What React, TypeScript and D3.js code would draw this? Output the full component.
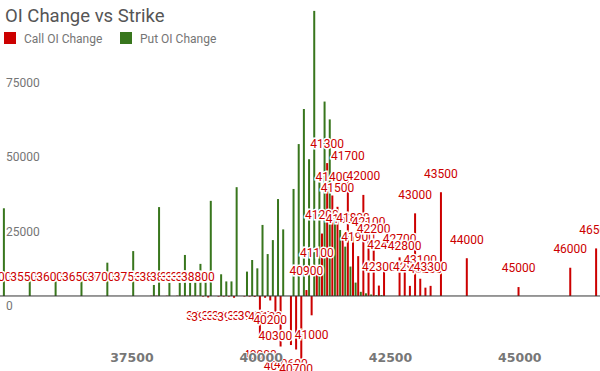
import { useEffect, useRef } from "react";
import * as d3 from "d3";

// ---------------------------------------------------------------------------
// Data
// ---------------------------------------------------------------------------

const STRIKES = [
  35000, 35500, 36000, 36500, 37000, 37500, 37900, 38000, 38200, 38400,
  38500, 38600, 38700, 38800, 38900, 39000, 39200, 39300, 39400, 39500,
  39700, 39800, 39900, 40000, 40100, 40200, 40300, 40400, 40600, 40700,
  40800, 40900, 41000, 41100, 41200, 41300, 41400, 41500, 41600, 41700,
  41800, 41900, 42000, 42100, 42200, 42300, 42400, 42700, 42800, 42900,
  43000, 43100, 43200, 43300, 43500, 44000, 45000, 46000, 46500,
];

const CALL_OI_CHANGE = [
  0, 0, 0, 0, 0, 0, 100, 100, 100, 100,
  100, 100, 100, 100, -200, -500, -200, -200, -200, -600,
  -200, -200, -300, -13500, -600, -1500, -7000, -17000, -16500, -18000,
  -22000, 2000, -6500, 8000, 21000, 44700, 33800, 30000, 19500, 40800,
  20000, 13400, 34000, 18500, 16300, 3500, 11000, 13000, 10500, 3400,
  27800, 5800, 2800, 3400, 34900, 12700, 3000, 9500, 16000,
];

const PUT_OI_CHANGE = [
  29500, 5500, 5000, 5000, 11200, 15100, 3700, 29900, 4800, 4600,
  13800, 4600, 4600, 10800, 4600, 32000, 7300, 4900, 4900, 36600,
  8200, 12100, 9300, 23900, 14100, 18800, 32600, 22400, 36000, 51100,
  62900, 46000, 95900, 38300, 65400, 59400, 28000, 22200, 16600, 9900,
  4500, 1400, 900, 500, 300, 300, 0, 0, 0, 0,
  0, 0, 0, 0, 0, 0, 0, 0, 0,
];

const X_TICKS = [37500, 40000, 42500, 45000];
const Y_TICKS = [0, 25000, 50000, 75000];

const SERIES = ["Call OI Change", "Put OI Change"];
const COLORS = ["#cc0000", "#38761d"];

const WIDTH = 600;
const HEIGHT = 371;

export default function App() {
  const svgRef = useRef<SVGSVGElement>(null);

  useEffect(() => {
    const svg = d3.select(svgRef.current);
    svg.selectAll("*").remove();

    const x = d3.scaleLinear().domain([34950, 46550]).range([0, WIDTH]);
    const y = d3.scaleLinear().domain([-25000, 100000]).range([370.3, -1.3]);

    const rows = STRIKES.map((s, i) => ({
      strike: s,
      call: CALL_OI_CHANGE[i],
      put: PUT_OI_CHANGE[i],
    }));

    const barW = 2;
    const off = 1.3; // half the gap between the two series in a group

    // ---- Title ----
    svg
      .append("text")
      .attr("x", 5)
      .attr("y", 21.5)
      .attr("font-family", "Roboto")
      .attr("font-size", 18.5)
      .attr("fill", "#555")
      .text("OI Change vs Strike");

    // ---- Legend ----
    const legendX = [4, 120];
    SERIES.forEach((name, i) => {
      svg
        .append("rect")
        .attr("x", legendX[i])
        .attr("y", 32)
        .attr("width", 12)
        .attr("height", 12)
        .attr("fill", COLORS[i]);
      svg
        .append("text")
        .attr("x", legendX[i] + 20)
        .attr("y", 43)
        .attr("font-family", "Roboto")
        .attr("font-size", 12)
        .attr("fill", "#757575")
        .text(name);
    });

    // ---- Y labels ----
    svg
      .append("g")
      .selectAll("text")
      .data(Y_TICKS)
      .join("text")
      .attr("x", 6)
      .attr("y", (d) => y(d) + 14)
      .attr("font-family", "Roboto")
      .attr("font-size", 12)
      .attr("fill", "#757575")
      .text((d) => String(d));

    // ---- Bars ----
    const g = svg.append("g");
    g.selectAll("rect.put")
      .data(rows.filter((d) => d.put !== 0))
      .join("rect")
      .attr("class", "put")
      .attr("x", (d) => x(d.strike) + off - barW / 2)
      .attr("width", barW)
      .attr("y", (d) => Math.min(y(d.put), y(0)))
      .attr("height", (d) => Math.abs(y(d.put) - y(0)))
      .attr("fill", COLORS[1]);

    g.selectAll("rect.call")
      .data(rows.filter((d) => d.call !== 0))
      .join("rect")
      .attr("class", "call")
      .attr("x", (d) => x(d.strike) - off - barW / 2)
      .attr("width", barW)
      .attr("y", (d) => Math.min(y(d.call), y(0)))
      .attr("height", (d) => Math.abs(y(d.call) - y(0)))
      .attr("fill", COLORS[0]);

    // ---- Baseline ----
    svg
      .append("line")
      .attr("x1", 0)
      .attr("x2", WIDTH)
      .attr("y1", y(0))
      .attr("y2", y(0))
      .attr("stroke", "#333")
      .attr("stroke-width", 1);

    // ---- Call annotations (strike labels) ----
    svg
      .append("g")
      .selectAll("text")
      .data(rows)
      .join("text")
      .attr("x", (d) => x(d.strike) - off)
      .attr("y", (d) => (d.call >= 0 ? y(d.call) - 19 : y(d.call) + 19) + 4.3)
      .attr("text-anchor", "middle")
      .attr("font-family", "Roboto")
      .attr("font-size", 12)
      .attr("fill", COLORS[0])
      .attr("stroke", "#fff")
      .attr("stroke-width", 3)
      .attr("paint-order", "stroke")
      .text((d) => String(d.strike));

    // ---- X labels ----
    svg
      .append("g")
      .selectAll("text")
      .data(X_TICKS)
      .join("text")
      .attr("x", (d) => x(d))
      .attr("y", 361.5)
      .attr("text-anchor", "middle")
      .attr("font-family", "DejaVu Sans")
      .attr("font-weight", "bold")
      .attr("font-size", 12.5)
      .attr("fill", "#777")
      .attr("stroke", "#fff")
      .attr("stroke-width", 2)
      .attr("paint-order", "stroke")
      .text((d) => String(d));
  }, []);

  return (
    <>
      <style>{"body{margin:0;background:#fff}"}</style>
      <svg ref={svgRef} width={WIDTH} height={HEIGHT} style={{ display: "block" }} />
    </>
  );
}
